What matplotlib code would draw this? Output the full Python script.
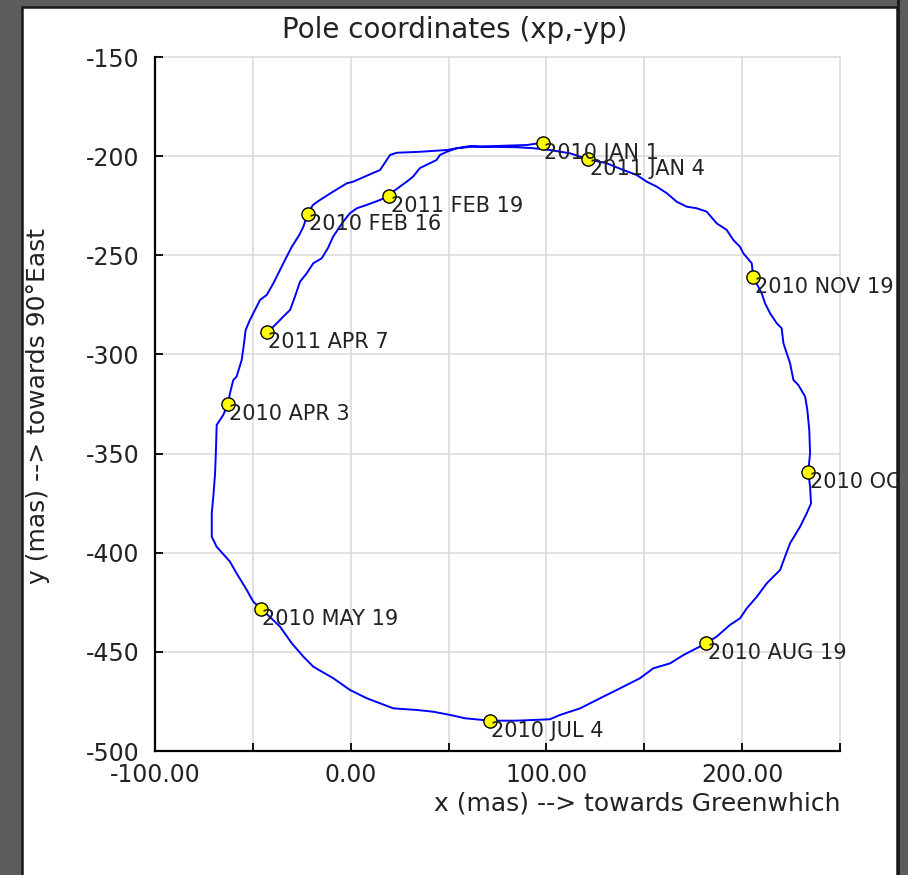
import matplotlib
matplotlib.use('Agg')
import matplotlib.pyplot as plt
from matplotlib.patches import Rectangle

##################################################
# data (mas)

# polar motion track, 2010 JAN 1 -> 2011 APR 7
xp = [98.1, 89.9, 79.7, 66.1, 61.0, 49.1, 35.4, 23.5, 20.1, 15.0,
      11.4, 1.2, -2.0, -9.0, -15.7, -19.3, -20.8, -22.0, -24.2, -26.3,
      -30.1, -33.6, -36.1, -39.5, -42.9, -46.3, -48.9, -51.5, -53.7, -54.5,
      -55.7, -58.3, -60.0, -61.7, -62.7, -65.1, -68.5, -68.8, -69.3, -70.2,
      -71.0, -71.0, -68.5, -61.7, -58.3, -53.1, -49.8, -45.8, -36.1, -30.1,
      -24.2, -19.1, -8.9, -0.4, 8.2, 21.8, 33.7, 42.2, 50.7, 58.4,
      71.2, 84.8, 101.8, 107.0, 117.2, 127.4, 137.6, 147.8, 154.6, 163.2,
      170.0, 181.6, 187.0, 193.8, 198.9, 202.4, 207.5, 212.6, 219.4, 221.9,
      224.5, 229.6, 233.0, 235.2, 234.7, 233.8, 234.7, 234.3, 233.3, 232.2,
      228.7, 226.2, 224.5, 221.1, 220.2, 217.7, 214.3, 211.7, 210.0, 205.7,
      204.9, 200.6, 198.9, 195.5, 192.1, 187.0, 181.9, 176.8, 171.7, 166.6,
      161.5, 156.4, 151.3, 146.1, 139.3, 130.8, 121.4, 112.1, 101.8, 93.3,
      84.8, 62.5, 54.2, 49.1, 45.6, 43.9, 42.1, 35.4, 31.8, 28.6,
      21.6, 19.7, 15.0, 8.2, 3.1, -0.4, -3.9, -9.0, -11.6, -14.8,
      -19.1, -22.5, -25.9, -28.5, -31.0, -33.6, -39.5, -42.9]
yp = [-193.2, -194.4, -194.7, -195.2, -194.9, -196.9, -197.8, -198.3, -199.4, -207.0,
      -208.5, -212.9, -213.7, -217.9, -222.1, -224.6, -227.2, -229.3, -235.6, -239.8,
      -245.7, -252.4, -257.4, -264.1, -270.0, -272.5, -277.6, -282.6, -287.7, -294.4,
      -302.8, -311.2, -312.9, -319.6, -325.0, -330.5, -335.6, -346.5, -359.9, -371.7,
      -380.1, -391.9, -397.0, -404.5, -410.4, -418.8, -424.7, -428.2, -437.3, -445.7,
      -452.4, -457.5, -463.3, -469.2, -473.4, -478.5, -479.3, -480.2, -481.8, -483.5,
      -484.7, -484.7, -484.0, -481.8, -478.5, -473.4, -468.4, -463.3, -458.3, -455.8,
      -451.6, -445.7, -442.3, -436.4, -433.1, -428.0, -422.2, -415.4, -408.7, -402.0,
      -395.2, -386.9, -380.1, -375.1, -366.7, -359.1, -349.9, -338.1, -328.0, -321.3,
      -315.4, -312.9, -304.5, -294.4, -286.8, -284.3, -279.3, -274.2, -269.2, -261.1,
      -254.0, -249.0, -245.7, -242.3, -237.2, -233.9, -228.0, -226.3, -225.5, -223.0,
      -218.7, -215.4, -212.9, -209.5, -207.0, -203.6, -201.6, -198.6, -196.9, -196.0,
      -195.5, -195.2, -196.0, -197.8, -199.4, -201.9, -202.8, -206.0, -210.4, -212.9,
      -217.9, -219.9, -222.1, -224.6, -226.3, -228.8, -233.1, -240.6, -246.3, -251.5,
      -254.0, -259.1, -263.3, -270.9, -277.6, -280.1, -286.0, -288.8]

# dated points
date_labels = ['2010 JAN 1', '2010 FEB 16', '2010 APR 3', '2010 MAY 19',
               '2010 JUL 4', '2010 AUG 19', '2010 OCT 4', '2010 NOV 19',
               '2011 JAN 4', '2011 FEB 19', '2011 APR 7']
date_x = [98.1, -22.0, -62.7, -45.8, 71.2, 181.6, 233.8, 205.7, 121.4, 19.7, -42.9]
date_y = [-193.2, -229.3, -325.0, -428.2, -484.7, -445.7, -359.1, -261.1, -201.6, -219.9, -288.8]

x_ticks = [-100, -50, 0, 50, 100, 150, 200, 250]
x_tick_labels = ['-100.00', '', '0.00', '', '100.00', '', '200.00', '']
y_ticks = [-500, -450, -400, -350, -300, -250, -200, -150]
y_tick_labels = ['-500', '-450', '-400', '-350', '-300', '-250', '-200', '-150']

##################################################
# figure

W, H = 908, 875
plt.rcParams['font.family'] = 'DejaVu Sans'
text_col = '#222222'
bg_col = '#5d5d5d'

fig = plt.figure(figsize=(W/100., H/100.), dpi=100, facecolor=bg_col)

# white panel with dark frame
panel = Rectangle((22./W, -0.05), (897.-22.)/W, (875.-7.)/H + 0.05,
                  transform=fig.transFigure, facecolor='white',
                  edgecolor='#1a1a1a', linewidth=1.8, zorder=-1)
fig.add_artist(panel)

ax = fig.add_axes([155./W, 1-751./H, 685./W, 694./H])
ax.set_facecolor('none')

ax.plot(xp, yp, color='#0000ff', linewidth=1.4, zorder=3)
ax.plot(date_x, date_y, linestyle='none', marker='o', markersize=9.5,
        markerfacecolor='#ffff00', markeredgecolor='black',
        markeredgewidth=1.0, zorder=4)
for lab, x, y in zip(date_labels, date_x, date_y):
    ax.annotate(lab, (x, y), xytext=(1, 0), textcoords='offset points',
                ha='left', va='top', fontsize=15, color=text_col,
                annotation_clip=False, zorder=5)

ax.set_xlim(-100, 250)
ax.set_ylim(-500, -150)
ax.set_xticks(x_ticks)
ax.set_xticklabels(x_tick_labels)
ax.set_yticks(y_ticks)
ax.set_yticklabels(y_tick_labels)
ax.tick_params(direction='in', length=6, width=1.3, color='black',
               labelsize=17, labelcolor=text_col)
ax.tick_params(axis='x', pad=9)
ax.tick_params(axis='y', pad=11)
ax.grid(True, color='#d9d9d9', linewidth=1.1, zorder=0)
for gl in ax.get_xgridlines() + ax.get_ygridlines():
    gl.set_clip_on(False)
ax.set_axisbelow(True)
for side in ['top', 'right']:
    ax.spines[side].set_visible(False)
for side in ['left', 'bottom']:
    ax.spines[side].set_linewidth(1.6)
    ax.spines[side].set_zorder(6)

fig.text(455./W, 1-30./H, 'Pole coordinates (xp,-yp)', ha='center',
         va='center', fontsize=20, color=text_col)
fig.text(840./W, 1-803./H, 'x (mas) --> towards Greenwhich', ha='right',
         va='center', fontsize=18, color=text_col)
fig.text(38./W, 1-406./H, 'y (mas) --> towards 90\u00b0East', ha='center',
         va='center', rotation=90, fontsize=18, color=text_col)

# right edge of the panel cuts the labels
strip = Rectangle((898./W, -0.1), 0.2, 1.2, transform=fig.transFigure,
                  facecolor=bg_col, edgecolor='#1a1a1a', linewidth=2,
                  zorder=10)
fig.add_artist(strip)

plt.savefig('out.png', dpi=100, facecolor=bg_col)
